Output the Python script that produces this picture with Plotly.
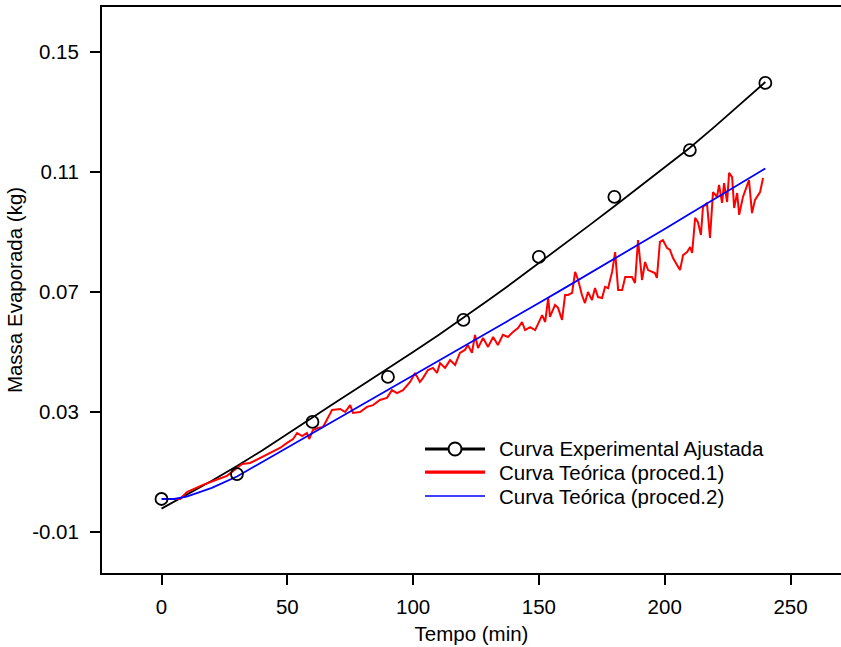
import plotly.graph_objects as go

# Experimental points
t_exp = [0, 30, 60, 90, 120, 150, 180, 210, 240]
m_exp = [0.0010, 0.0093, 0.0267, 0.0417, 0.0607, 0.0817, 0.1017, 0.1173, 0.1397]

# Fitted experimental curve
t_fit = [0, 10, 20, 30, 40, 50, 60, 70, 80, 90, 100, 110, 120, 130, 140, 150,
         160, 170, 180, 190, 200, 210, 220, 230, 240]
m_fit = [-0.0022, 0.0024, 0.0071, 0.0120, 0.0172, 0.0227, 0.0283, 0.0337, 0.0391,
         0.0445, 0.0500, 0.0556, 0.0613, 0.0673, 0.0734, 0.0796, 0.0859, 0.0922,
         0.0986, 0.1050, 0.1115, 0.1181, 0.1252, 0.1325, 0.1400]

# Theoretical curve, procedure 2
t_p2 = [0, 5, 10, 20, 30, 40, 50, 60, 70, 80, 90, 100, 110, 120, 130, 140, 150,
        160, 170, 180, 190, 200, 210, 220, 230, 240]
m_p2 = [0.0010, 0.0010, 0.0018, 0.0047, 0.0085, 0.0133, 0.0181, 0.0230, 0.0278,
        0.0326, 0.0374, 0.0422, 0.0469, 0.0517, 0.0565, 0.0614, 0.0663, 0.0712,
        0.0761, 0.0810, 0.0860, 0.0910, 0.0961, 0.1011, 0.1062, 0.1112]

# Theoretical curve, procedure 1 (noisy)
t_p1 = [4, 7.4, 10.1, 12.5, 16.5, 20.5, 26.0, 30.0, 32.0, 35.2, 39.1, 43.1, 47.1,
        49.9, 52.3, 53.9, 55.9, 57.8, 58.7, 60.2, 62.2, 64.2, 66.2, 67.8, 71.0,
        73.0, 75.0, 76.1, 78.9, 81.7, 84.1, 86.8, 89.6, 91.6, 93.6, 96.0, 98.8,
        100.8, 102.7, 103.9, 105.9, 107.9, 109.5, 110.7, 112.7, 114.7, 116.7,
        118.6, 120.6, 121.8, 123.4, 124.6, 125.8, 127.8, 129.8, 131.8, 133.7,
        135.7, 137.7, 139.7, 141.7, 143.3, 144.5, 146.5, 148.5, 149.7, 151.3,
        152.5, 153.7, 154.4, 156.4, 157.6, 159.2, 160.4, 161.6, 163.2, 164.4,
        165.6, 167.1, 168.3, 169.5, 171.1, 172.3, 173.5, 175.1, 176.3, 177.5,
        179.1, 180.3, 181.5, 183.1, 184.3, 185.5, 187.0, 188.2, 189.4, 191.0,
        192.2, 193.4, 195.0, 196.1, 196.9, 198.1, 199.3, 200.9, 202.1, 203.3,
        204.9, 206.1, 207.3, 208.9, 210.1, 210.9, 212.1, 213.2, 214.4, 215.2,
        216.8, 218.0, 219.2, 220.8, 221.6, 222.8, 223.6, 224.8, 225.6, 226.8,
        227.6, 228.8, 229.6, 231.1, 233.5, 234.7, 235.9, 237.9, 239.1]
m_p1 = [0.0010, 0.0010, 0.0033, 0.0043, 0.0057, 0.0070, 0.0087, 0.0113, 0.0127,
        0.0130, 0.0147, 0.0163, 0.0180, 0.0197, 0.0210, 0.0230, 0.0220, 0.0230,
        0.0210, 0.0240, 0.0247, 0.0250, 0.0283, 0.0307, 0.0310, 0.0300, 0.0323,
        0.0297, 0.0300, 0.0317, 0.0323, 0.0340, 0.0347, 0.0373, 0.0363, 0.0373,
        0.0400, 0.0430, 0.0400, 0.0413, 0.0440, 0.0447, 0.0430, 0.0463, 0.0447,
        0.0473, 0.0457, 0.0497, 0.0507, 0.0523, 0.0497, 0.0557, 0.0513, 0.0547,
        0.0517, 0.0550, 0.0523, 0.0557, 0.0550, 0.0567, 0.0580, 0.0600, 0.0573,
        0.0583, 0.0573, 0.0597, 0.0623, 0.0600, 0.0680, 0.0617, 0.0657, 0.0647,
        0.0607, 0.0690, 0.0690, 0.0697, 0.0767, 0.0740, 0.0690, 0.0663, 0.0700,
        0.0673, 0.0713, 0.0683, 0.0680, 0.0717, 0.0713, 0.0767, 0.0833, 0.0707,
        0.0707, 0.0750, 0.0750, 0.0750, 0.0730, 0.0873, 0.0740, 0.0800, 0.0773,
        0.0767, 0.0763, 0.0747, 0.0867, 0.0873, 0.0847, 0.0840, 0.0813, 0.0790,
        0.0773, 0.0823, 0.0833, 0.0850, 0.0830, 0.0947, 0.0933, 0.0890, 0.0983,
        0.0997, 0.0880, 0.1033, 0.1017, 0.1057, 0.0997, 0.1063, 0.1000, 0.1097,
        0.1083, 0.0980, 0.1030, 0.0957, 0.1017, 0.1073, 0.0963, 0.1007, 0.1033,
        0.1080]

x_ticks = [0, 50, 100, 150, 200, 250]
y_ticks = [-0.01, 0.03, 0.07, 0.11, 0.15]
y_tick_labels = ["-0.01", "0.03", "0.07", "0.11", "0.15"]

legend_names = ["Curva Experimental Ajustada", "Curva Teórica (proced.1)",
                "Curva Teórica (proced.2)"]
legend_colors = ["black", "red", "blue"]
legend_widths = [3.2, 3.2, 1.6]

FONT = "Liberation Sans, Arial, sans-serif"
FS = 20.5

fig = go.Figure()

fig.add_trace(go.Scatter(x=t_fit, y=m_fit, mode="lines", name=legend_names[0],
                         showlegend=False, line=dict(color="black", width=1.8)))
fig.add_trace(go.Scatter(x=t_p1, y=m_p1, mode="lines", name=legend_names[1],
                         showlegend=False, line=dict(color="red", width=2)))
fig.add_trace(go.Scatter(x=t_p2, y=m_p2, mode="lines", name=legend_names[2],
                         showlegend=False, line=dict(color="blue", width=1.8)))
fig.add_trace(go.Scatter(x=t_exp, y=m_exp, mode="markers", name="Experimental",
                         showlegend=False,
                         marker=dict(symbol="circle-open", size=12,
                                     color="black", line=dict(width=1.8))))

# Manual legend (paper coordinates) to reproduce the original's compact layout
leg_x0, leg_x1, txt_x = 0.4371, 0.5183, 0.5345
leg_rows = [0.2191, 0.1784, 0.1360]
shapes = []
annotations = []
for name, col, w, yy in zip(legend_names, legend_colors, legend_widths, leg_rows):
    shapes.append(dict(type="line", xref="paper", yref="paper",
                       x0=leg_x0, x1=leg_x1, y0=yy, y1=yy,
                       line=dict(color=col, width=w)))
    annotations.append(dict(text=name, xref="paper", yref="paper", x=txt_x,
                            y=yy, xanchor="left", yanchor="middle",
                            showarrow=False,
                            font=dict(family=FONT, size=FS, color="black")))
shapes.append(dict(type="circle", xref="paper", yref="paper",
                   xsizemode="pixel", ysizemode="pixel",
                   xanchor=(leg_x0 + leg_x1) / 2, yanchor=leg_rows[0],
                   x0=-6.5, x1=6.5, y0=-6.5, y1=6.5,
                   fillcolor="white", line=dict(color="black", width=2)))

fig.update_layout(
    width=841, height=647,
    margin=dict(l=102, r=0, t=7, b=74),
    paper_bgcolor="white", plot_bgcolor="white",
    font=dict(family=FONT, size=FS, color="black"),
    showlegend=False,
    shapes=shapes,
    annotations=annotations,
    xaxis=dict(range=[-23.65, 270.07], tickmode="array", tickvals=x_ticks,
               ticks="outside", ticklen=10, tickwidth=1.8, tickcolor="black",
               ticklabelstandoff=4,
               showline=True, linecolor="black", linewidth=2, mirror=True,
               showgrid=False, zeroline=False,
               title=dict(text="Tempo (min)", standoff=10,
                          font=dict(family=FONT, size=FS)),
               tickfont=dict(family=FONT, size=FS)),
    yaxis=dict(range=[-0.02367, 0.165], tickmode="array", tickvals=y_ticks,
               ticktext=y_tick_labels,
               ticks="outside", ticklen=10, tickwidth=1.8, tickcolor="black",
               ticklabelstandoff=7,
               showline=True, linecolor="black", linewidth=2, mirror=False,
               showgrid=False, zeroline=False,
               title=dict(text="Massa Evaporada (kg)", standoff=4,
                          font=dict(family=FONT, size=FS)),
               tickfont=dict(family=FONT, size=FS)),
)

fig.write_html("out.html")
